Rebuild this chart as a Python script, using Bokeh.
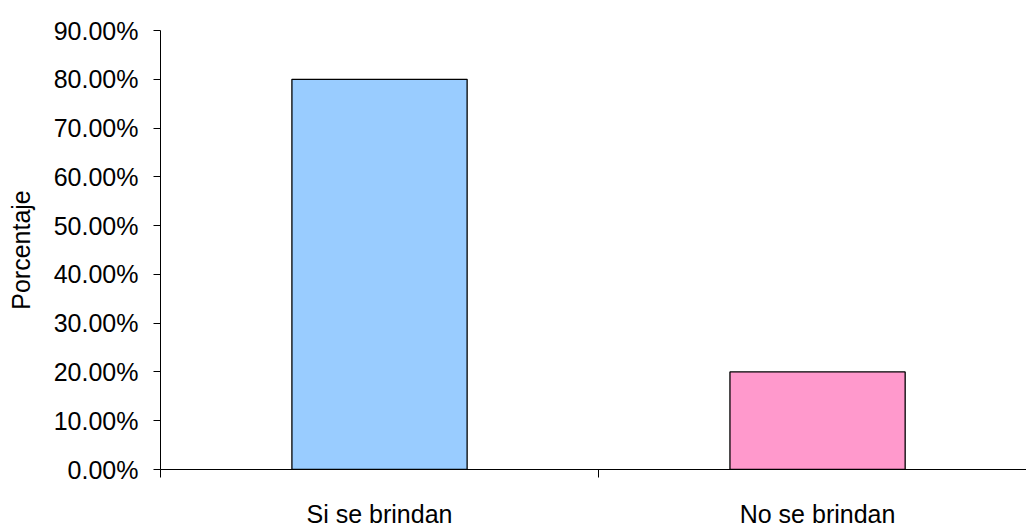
from bokeh.plotting import figure
from bokeh.models import FixedTicker, NumeralTickFormatter, Range1d, ColumnDataSource
from bokeh.embed import file_html
from bokeh.resources import INLINE

categories = ["Si se brindan", "No se brindan"]
values = [0.80, 0.20]
colors = ["#99CCFF", "#FF99CC"]
y_ticks = [0.0, 0.1, 0.2, 0.3, 0.4, 0.5, 0.6, 0.7, 0.8, 0.9]

xpos = [i + 0.5 for i in range(len(categories))]
src = ColumnDataSource(dict(x=xpos, top=values, color=colors))

FONT = "Liberation Sans"
FS = "25px"

p = figure(width=1026, height=530, output_backend="svg", toolbar_location=None,
           x_range=Range1d(0, 1.977), y_range=Range1d(0, 0.9),
           min_border_left=160, min_border_right=0, min_border_top=30, min_border_bottom=59)
p.outline_line_color = None
p.grid.visible = False
p.background_fill_color = "white"

p.vbar(x="x", top="top", bottom=0, width=0.40, fill_color="color",
       line_color="black", line_width=1.3, source=src)

# y axis
p.yaxis.ticker = FixedTicker(ticks=y_ticks, minor_ticks=[])
p.yaxis.formatter = NumeralTickFormatter(format="0.00%")
p.yaxis.axis_label = "Porcentaje"
p.yaxis.axis_label_text_font = FONT
p.yaxis.axis_label_text_font_style = "normal"
p.yaxis.axis_label_text_font_size = FS
p.yaxis.axis_label_standoff = 16
p.yaxis.major_label_text_font = FONT
p.yaxis.major_label_text_font_size = FS
p.yaxis.major_label_standoff = 15
p.yaxis.major_tick_out = 7
p.yaxis.major_tick_in = 0
p.yaxis.minor_tick_out = 0
p.yaxis.axis_line_color = "black"
p.yaxis.major_tick_line_color = "black"
p.yaxis.major_label_text_color = "black"
p.yaxis.axis_label_text_color = "black"

# x axis
p.xaxis.ticker = FixedTicker(ticks=xpos, minor_ticks=[0, 1, 2])
p.xaxis.major_label_overrides = {xpos[i]: categories[i] for i in range(len(categories))}
p.xaxis.major_label_text_font = FONT
p.xaxis.major_label_text_font_size = FS
p.xaxis.major_label_text_color = "black"
p.xaxis.major_label_standoff = 22
p.xaxis.major_tick_out = 0
p.xaxis.major_tick_in = 0
p.xaxis.minor_tick_out = 8
p.xaxis.minor_tick_in = 0
p.xaxis.minor_tick_line_color = "black"
p.xaxis.axis_line_color = "black"

open("out.html", "w").write(file_html(p, INLINE))
